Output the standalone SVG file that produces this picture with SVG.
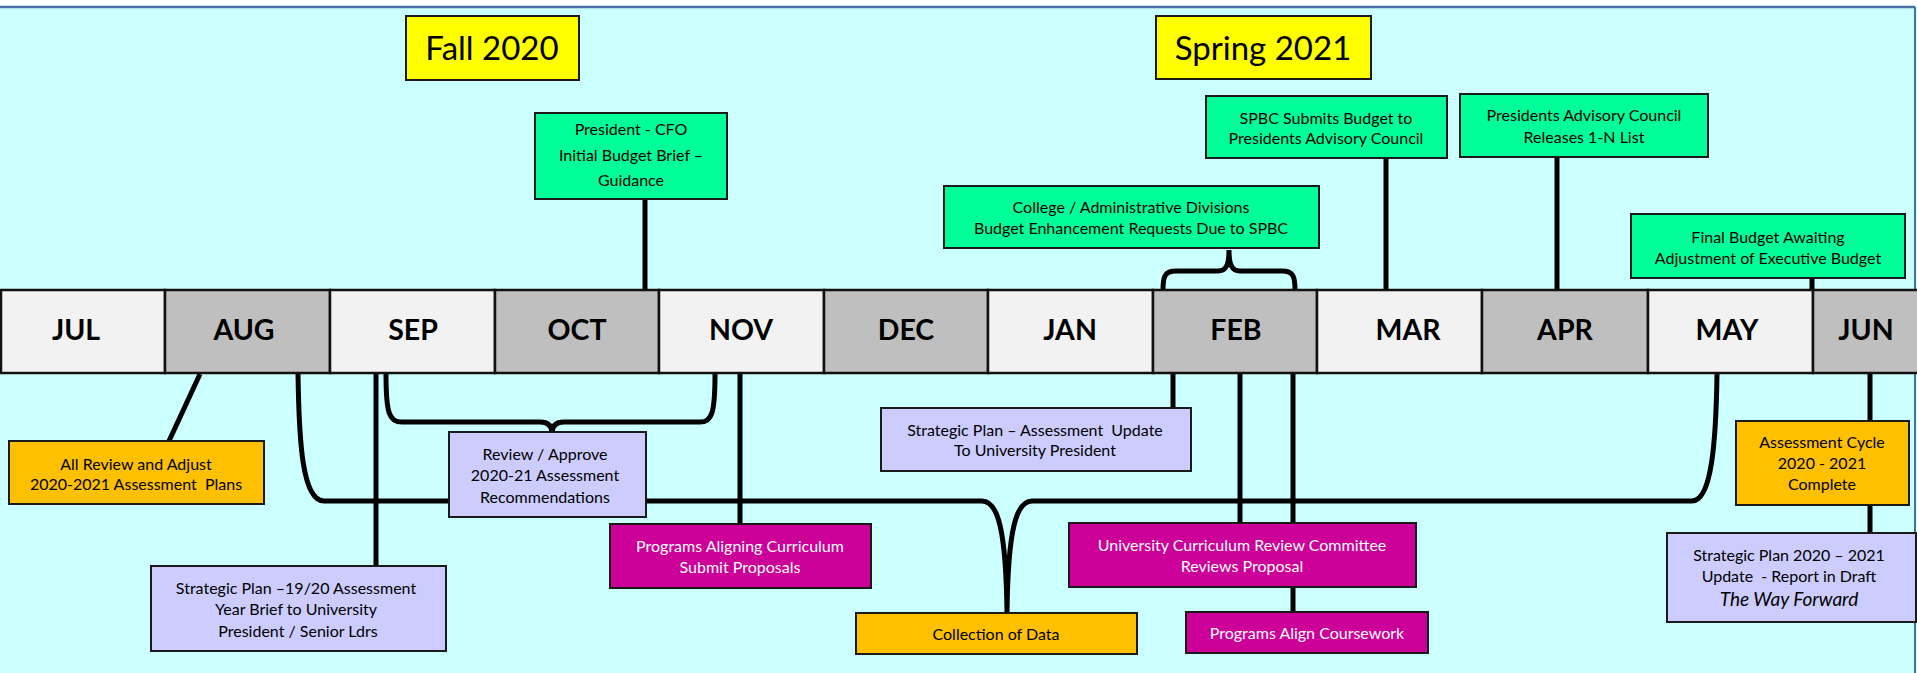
<svg xmlns="http://www.w3.org/2000/svg" width="1917" height="673" viewBox="0 0 1917 673">
<style>
.t{font-family:Lato,"Liberation Sans",sans-serif;font-size:16px;text-anchor:middle;fill:#000}
.w{fill:#fff}
.m{font-family:Lato,"Liberation Sans",sans-serif;font-size:28.5px;font-weight:bold;text-anchor:middle;fill:#000}
.s{font-family:Lato,"Liberation Sans",sans-serif;font-size:33px;text-anchor:middle;fill:#000}
.bx{stroke:#1a1a1a;stroke-width:2}
.g{fill:#00FF99}.y{fill:#FFFF00}.o{fill:#FFC000}.l{fill:#CCCCFF}.p{fill:#CC0099}
.lt{fill:#F2F2F2;stroke:#111;stroke-width:2.5}.dk{fill:#BFBFBF;stroke:#111;stroke-width:2.5}
.c{fill:none;stroke:#000;stroke-width:5;stroke-linejoin:round}
</style>
<rect x="0" y="0" width="1917" height="673" fill="#CCFFFF"/>
<rect x="0" y="0" width="1917" height="6" fill="#fff"/>
<line x1="0" y1="7" x2="1915" y2="7" stroke="#4A6FA5" stroke-width="2.5"/>
<line x1="1915" y1="7" x2="1915" y2="673" stroke="#4A6FA5" stroke-width="2"/>

<g id="connectors">
<line class="c" x1="645" y1="199" x2="645" y2="290"/>
<line class="c" x1="1386" y1="158" x2="1386" y2="290"/>
<line class="c" x1="1557" y1="157" x2="1557" y2="290"/>
<line class="c" x1="1812" y1="278" x2="1812" y2="290"/>
<path class="c" d="M1163 290 C1163 276 1165 271 1176 271 L1218 271 C1226 271 1229 265 1229 250 M1295 290 C1295 276 1293 271 1282 271 L1240 271 C1232 271 1229 265 1229 250"/>
<line class="c" x1="200" y1="374" x2="169" y2="441"/>
<path class="c" d="M298 374 C299 440 302 501 324 501 L982 501 C998 501 1006 530 1007 613 M1717 374 C1716 440 1712 501 1692 501 L1032 501 C1016 501 1008 530 1007 613"/>
<line class="c" x1="376" y1="374" x2="376" y2="566"/>
<path class="c" d="M386 374 C386 413 389 422 402 422 L540 422 C548 422 552 426 552 433 M715 374 C715 413 712 422 700 422 L564 422 C556 422 552 426 552 433"/>
<line class="c" x1="740" y1="374" x2="740" y2="524"/>
<line class="c" x1="1173" y1="374" x2="1173" y2="408"/>
<line class="c" x1="1240" y1="374" x2="1240" y2="523"/>
<line class="c" x1="1293" y1="374" x2="1293" y2="612"/>
<line class="c" x1="1870" y1="374" x2="1870" y2="421"/>
<line class="c" x1="1870" y1="505" x2="1870" y2="533"/>
</g>

<g id="timeline">
<g id="m-jul"><rect class="lt" x="1" y="290" width="164" height="83"/><text class="m" x="76" y="340">JUL</text></g>
<g id="m-aug"><rect class="dk" x="165" y="290" width="165" height="83"/><text class="m" x="244" y="340">AUG</text></g>
<g id="m-sep"><rect class="lt" x="330" y="290" width="165" height="83"/><text class="m" x="413" y="340">SEP</text></g>
<g id="m-oct"><rect class="dk" x="495" y="290" width="164" height="83"/><text class="m" x="577" y="340">OCT</text></g>
<g id="m-nov"><rect class="lt" x="659" y="290" width="165" height="83"/><text class="m" x="741" y="340">NOV</text></g>
<g id="m-dec"><rect class="dk" x="824" y="290" width="164" height="83"/><text class="m" x="906" y="340">DEC</text></g>
<g id="m-jan"><rect class="lt" x="988" y="290" width="165" height="83"/><text class="m" x="1070" y="340">JAN</text></g>
<g id="m-feb"><rect class="dk" x="1153" y="290" width="164" height="83"/><text class="m" x="1236" y="340">FEB</text></g>
<g id="m-mar"><rect class="lt" x="1317" y="290" width="165" height="83"/><text class="m" x="1408" y="340">MAR</text></g>
<g id="m-apr"><rect class="dk" x="1482" y="290" width="166" height="83"/><text class="m" x="1565" y="340">APR</text></g>
<g id="m-may"><rect class="lt" x="1648" y="290" width="165" height="83"/><text class="m" x="1727" y="340">MAY</text></g>
<g id="m-jun"><rect class="dk" x="1813" y="290" width="106" height="83"/><text class="m" x="1866" y="340">JUN</text></g>
</g>

<g id="fall"><rect class="bx y" x="406" y="16" width="173" height="64"/><text class="s" x="492" y="60">Fall 2020</text></g>
<g id="spring"><rect class="bx y" x="1156" y="16" width="215" height="63"/><text class="s" x="1263" y="60">Spring 2021</text></g>

<g id="cfo"><rect class="bx g" x="535" y="113" width="192" height="86"/>
<text class="t" x="631" y="135">President - CFO</text><text class="t" x="631" y="161">Initial Budget Brief –</text><text class="t" x="631" y="186">Guidance</text></g>
<g id="spbc"><rect class="bx g" x="1206" y="96" width="241" height="62"/>
<text class="t" x="1326" y="124">SPBC Submits Budget to</text><text class="t" x="1326" y="144">Presidents Advisory Council</text></g>
<g id="pac"><rect class="bx g" x="1460" y="94" width="248" height="63"/>
<text class="t" x="1584" y="121">Presidents Advisory Council</text><text class="t" x="1584" y="143">Releases 1-N List</text></g>
<g id="college"><rect class="bx g" x="944" y="186" width="375" height="62"/>
<text class="t" x="1131" y="213">College / Administrative Divisions</text><text class="t" x="1131" y="234">Budget Enhancement Requests Due to SPBC</text></g>
<g id="final"><rect class="bx g" x="1631" y="214" width="274" height="64"/>
<text class="t" x="1768" y="243">Final Budget Awaiting</text><text class="t" x="1768" y="264">Adjustment of Executive Budget</text></g>

<g id="allreview"><rect class="bx o" x="9" y="441" width="255" height="63"/>
<text class="t" x="136" y="470">All Review and Adjust</text><text class="t" x="136" y="490">2020-2021 Assessment&#160; Plans</text></g>
<g id="sp1920"><rect class="bx l" x="151" y="566" width="295" height="85"/>
<text class="t" x="296" y="594">Strategic Plan –19/20 Assessment</text><text class="t" x="296" y="615">Year Brief to University</text><text class="t" x="298" y="637">President / Senior Ldrs</text></g>
<g id="review"><rect class="bx l" x="449" y="432" width="197" height="85"/>
<text class="t" x="545" y="460">Review / Approve</text><text class="t" x="545" y="481">2020-21 Assessment</text><text class="t" x="545" y="503">Recommendations</text></g>
<g id="aligning"><rect class="bx p" x="610" y="524" width="261" height="64"/>
<text class="t w" x="740" y="552">Programs Aligning Curriculum</text><text class="t w" x="740" y="573">Submit Proposals</text></g>
<g id="collection"><rect class="bx o" x="856" y="613" width="281" height="41"/>
<text class="t" x="996" y="640">Collection of Data</text></g>
<g id="spupdate"><rect class="bx l" x="881" y="408" width="310" height="63"/>
<text class="t" x="1035" y="436">Strategic Plan – Assessment&#160; Update</text><text class="t" x="1035" y="456">To University President</text></g>
<g id="ucrc"><rect class="bx p" x="1069" y="523" width="347" height="64"/>
<text class="t w" x="1242" y="551">University Curriculum Review Committee</text><text class="t w" x="1242" y="572">Reviews Proposal</text></g>
<g id="coursework"><rect class="bx p" x="1186" y="612" width="242" height="41"/>
<text class="t w" x="1307" y="639">Programs Align Coursework</text></g>
<g id="cycle"><rect class="bx o" x="1736" y="421" width="173" height="84"/>
<text class="t" x="1822" y="448">Assessment Cycle</text><text class="t" x="1822" y="469">2020 - 2021</text><text class="t" x="1822" y="490">Complete</text></g>
<g id="sp2021"><rect class="bx l" x="1667" y="533" width="249" height="89"/>
<text class="t" x="1789" y="561">Strategic Plan 2020 – 2021</text><text class="t" x="1789" y="582">Update&#160; - Report in Draft</text><text class="t" x="1789" y="606" style="font-style:italic;font-size:19px">The Way Forward</text></g>
</svg>
